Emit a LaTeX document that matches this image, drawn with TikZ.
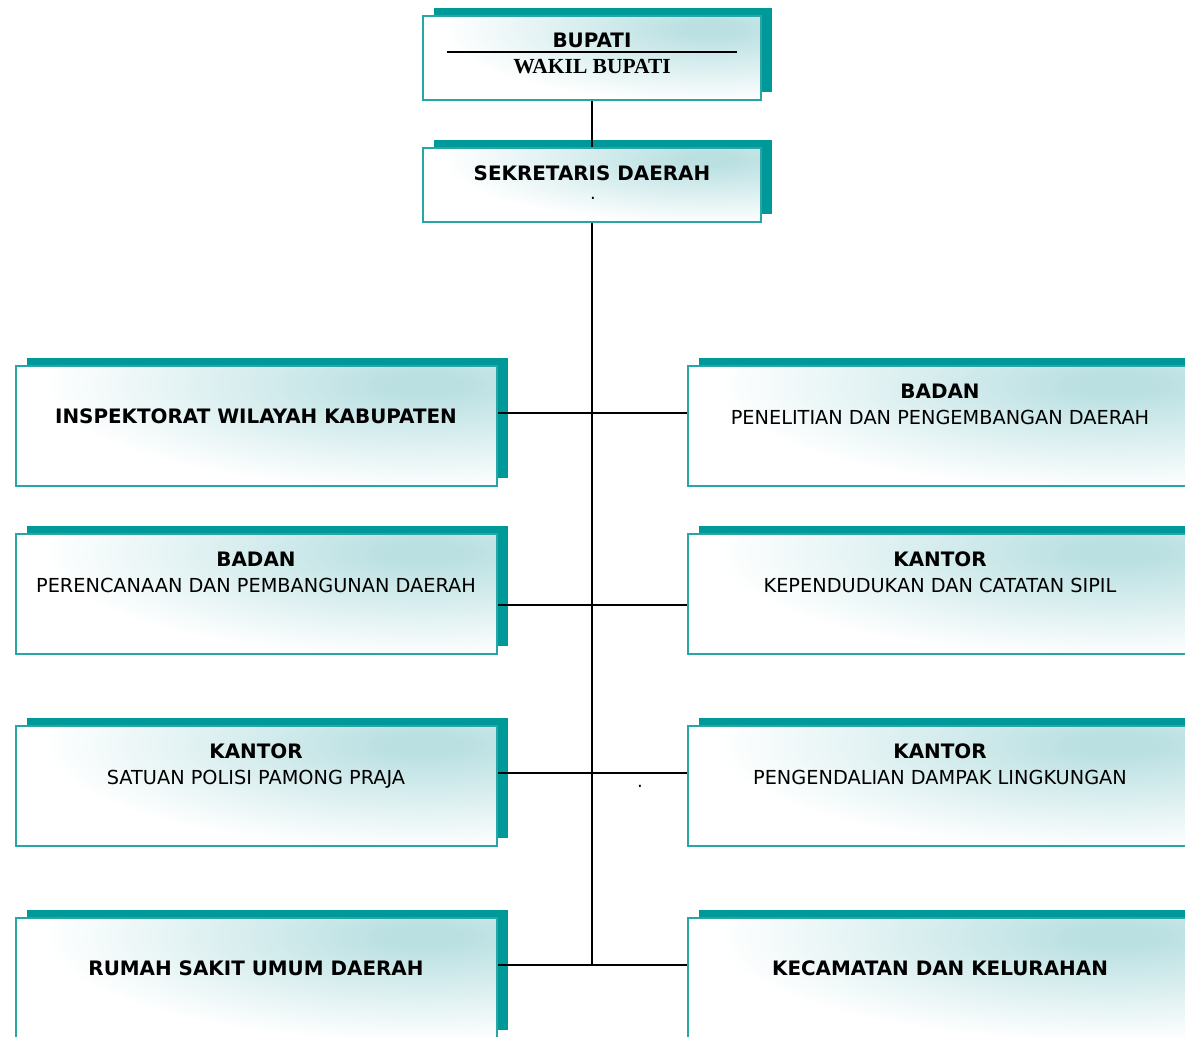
\documentclass[tikz,border=0pt]{standalone}
\usepackage{fontspec}
\setmainfont{DejaVu Sans}
\newfontfamily\tms{Liberation Serif}
\usetikzlibrary{shadows}
\definecolor{shadowcol}{RGB}{0,153,153}
\definecolor{bordercol}{RGB}{40,166,166}
% functional shading: white at left and bottom, light teal towards the top right
\pgfdeclarefunctionalshading{boxshade}{\pgfpoint{0bp}{0bp}}{\pgfpoint{100bp}{100bp}}{}{
  25 sub 50 div 0.85 sub 0.8 div dup mul
  exch
  25 sub 50 div 0.85 sub 0.72 div dup mul
  add sqrt 1.1 exch sub
  dup abs add 2 div dup 1 sub abs neg add 1 add 2 div
  dup 0.2706 mul 1 exch sub
  exch dup 0.1216 mul 1 exch sub
  exch 0.1137 mul 1 exch sub
}
\tikzset{
  orgbox/.style={rectangle, draw=bordercol, line width=1.6pt, shading=boxshade,
    inner sep=0pt, general shadow={fill=shadowcol, shadow xshift=10.5pt, shadow yshift=8pt}},
  lbox/.style={orgbox, minimum width=481pt, minimum height=120pt},
  rbox/.style={orgbox, minimum width=504pt, minimum height=120pt},
  tbox/.style={orgbox, minimum width=338pt},
  bt/.style={anchor=base, inner sep=0pt, font=\fontsize{19.9pt}{22pt}\selectfont\bfseries},
  rt/.style={anchor=base, inner sep=0pt, font=\fontsize{19.3pt}{22pt}\selectfont},
  dotlabel/.style={anchor=base, inner sep=0pt, font=\fontsize{18pt}{20pt}\selectfont},
  conn/.style={line width=1.9pt, draw=black}
}
\begin{document}
\begin{tikzpicture}[x=1pt,y=-1pt]
\clip (0,0) rectangle (1185,1036);
\fill[white] (0,0) rectangle (1185,1036);
% top boxes
\node[tbox, minimum height=84pt] (bupati) at (592,58) {};
\node[tbox, minimum height=74pt] (sekda) at (592,185) {};
% left column
\node[lbox] (insp) at (256.5,426) {};
\node[lbox] (bappeda) at (256.5,594) {};
\node[lbox] (satpol) at (256.5,786) {};
\node[lbox] (rsud) at (256.5,978) {};
% right column
\node[rbox] (litbang) at (940,426) {};
\node[rbox] (capil) at (940,594) {};
\node[rbox] (dampak) at (940,786) {};
\node[rbox] (camat) at (940,978) {};
% texts
\node[bt] (t-bupati) at (592,47) {BUPATI};
\coordinate (ul-l) at (447,52);
\coordinate (ul-r) at (737,52);
\draw[line width=1.4pt] (ul-l) -- (ul-r);
\node[anchor=base, inner sep=0pt, font=\tms\fontsize{21.5pt}{24pt}\selectfont\bfseries] (t-wakil) at (592,73) {WAKIL BUPATI};
\node[bt] (t-sekda) at (592,180) {SEKRETARIS DAERAH};
\node[dotlabel] (t-dot1) at (593,199) {.};
\node[bt] (t-insp) at (256,423) {INSPEKTORAT WILAYAH KABUPATEN};
\node[bt] (t-b1) at (940,398) {BADAN};
\node[rt] (t-b1b) at (940,424) {PENELITIAN DAN PENGEMBANGAN DAERAH};
\node[bt] (t-b2) at (256,566) {BADAN};
\node[rt] (t-b2b) at (256,592) {PERENCANAAN DAN PEMBANGUNAN DAERAH};
\node[bt] (t-k1) at (940,566) {KANTOR};
\node[rt] (t-k1b) at (940,592) {KEPENDUDUKAN DAN CATATAN SIPIL};
\node[bt] (t-k2) at (256,758) {KANTOR};
\node[rt] (t-k2b) at (256,784) {SATUAN POLISI PAMONG PRAJA};
\node[bt] (t-k3) at (940,758) {KANTOR};
\node[rt] (t-k3b) at (940,784) {PENGENDALIAN DAMPAK LINGKUNGAN};
\node[dotlabel] (t-dot2) at (640,787) {.};
\node[bt] (t-rsud) at (256,975) {RUMAH SAKIT UMUM DAERAH};
\node[bt] (t-camat) at (940,975) {KECAMATAN DAN KELURAHAN};
% connectors
\coordinate (j1) at (592,413);
\coordinate (j2) at (592,605);
\coordinate (j3) at (592,773);
\coordinate (j4) at (592,965);
\draw[conn] (bupati.south) -- (sekda.north);
\draw[conn] (sekda.south) -- (j4);
\draw[conn] (insp.east |- j1) -- (litbang.west |- j1);
\draw[conn] (bappeda.east |- j2) -- (capil.west |- j2);
\draw[conn] (satpol.east |- j3) -- (dampak.west |- j3);
\draw[conn] (rsud.east |- j4) -- (camat.west |- j4);
\end{tikzpicture}
\end{document}
